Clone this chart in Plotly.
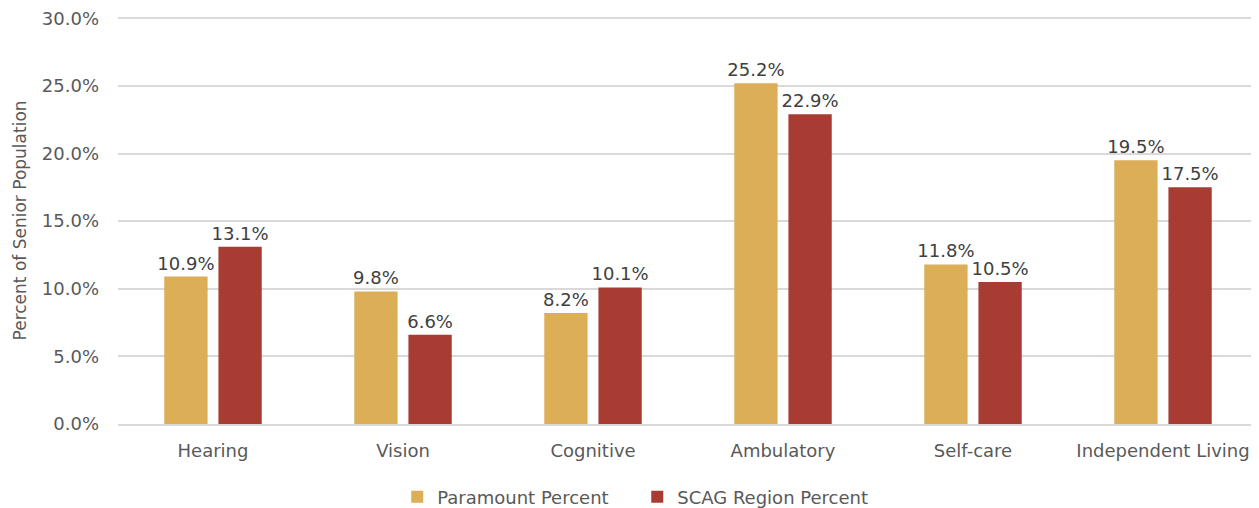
import plotly.graph_objects as go

categories = ["Hearing", "Vision", "Cognitive", "Ambulatory", "Self-care", "Independent Living"]
paramount = [10.9, 9.8, 8.2, 25.2, 11.8, 19.5]
scag = [13.1, 6.6, 10.1, 22.9, 10.5, 17.5]
y_ticks = [0, 5, 10, 15, 20, 25, 30]
y_tick_labels = [f"{v:.1f}%" for v in y_ticks]
y_title = "Percent of Senior Population"

FONT = "DejaVu Sans, Liberation Sans, sans-serif"
TXT = "#595959"
LBL = "#404040"

fig = go.Figure()
fig.add_trace(go.Bar(
    name="Paramount Percent", x=categories, y=paramount,
    marker=dict(color="#DBAE57", line=dict(width=0)),
    text=[f"{v:.1f}%" for v in paramount], textposition="outside",
    constraintext="none",
    textfont=dict(size=18, color=LBL, family=FONT), cliponaxis=False,
))
fig.add_trace(go.Bar(
    name="SCAG Region Percent", x=categories, y=scag,
    marker=dict(color="#A93C32", line=dict(width=0)),
    text=[f"{v:.1f}%" for v in scag], textposition="outside",
    constraintext="none",
    textfont=dict(size=18, color=LBL, family=FONT), cliponaxis=False,
))

# page body has an 8px margin, so the figure is sized to fit the window
fig.update_layout(
    width=1251, height=500,
    margin=dict(l=110, r=1, t=9, b=84, autoexpand=False),
    paper_bgcolor="white", plot_bgcolor="white",
    barmode="group", bargap=0.43, bargroupgap=0.2,
    font=dict(family=FONT, size=18, color=TXT),
    showlegend=True,
    legend=dict(orientation="h", xref="container", yref="container",
                x=0.503, xanchor="center", y=0.022, yanchor="middle",
                font=dict(size=18, color=TXT), traceorder="normal",
                entrywidth=195, entrywidthmode="pixels"),
    xaxis=dict(showgrid=False, showline=True, linecolor="#D9D9D9", linewidth=1.5,
               tickfont=dict(size=18, color=TXT), ticks="", ticklabelstandoff=10,
               automargin=False),
    yaxis=dict(range=[0, 30.1], tickvals=y_ticks, ticktext=y_tick_labels,
               showgrid=True, gridcolor="#D9D9D9", gridwidth=1.5, zeroline=False,
               tickfont=dict(size=18, color=TXT), ticks="", ticklabelstandoff=18,
               ticklabeloverflow="allow", automargin=False),
    annotations=[dict(text=y_title, textangle=-90, xref="paper", yref="paper",
                      x=-0.086, y=0.5, xanchor="center", yanchor="middle",
                      showarrow=False, font=dict(size=17, color=TXT))],
)
fig.write_html("out.html")
